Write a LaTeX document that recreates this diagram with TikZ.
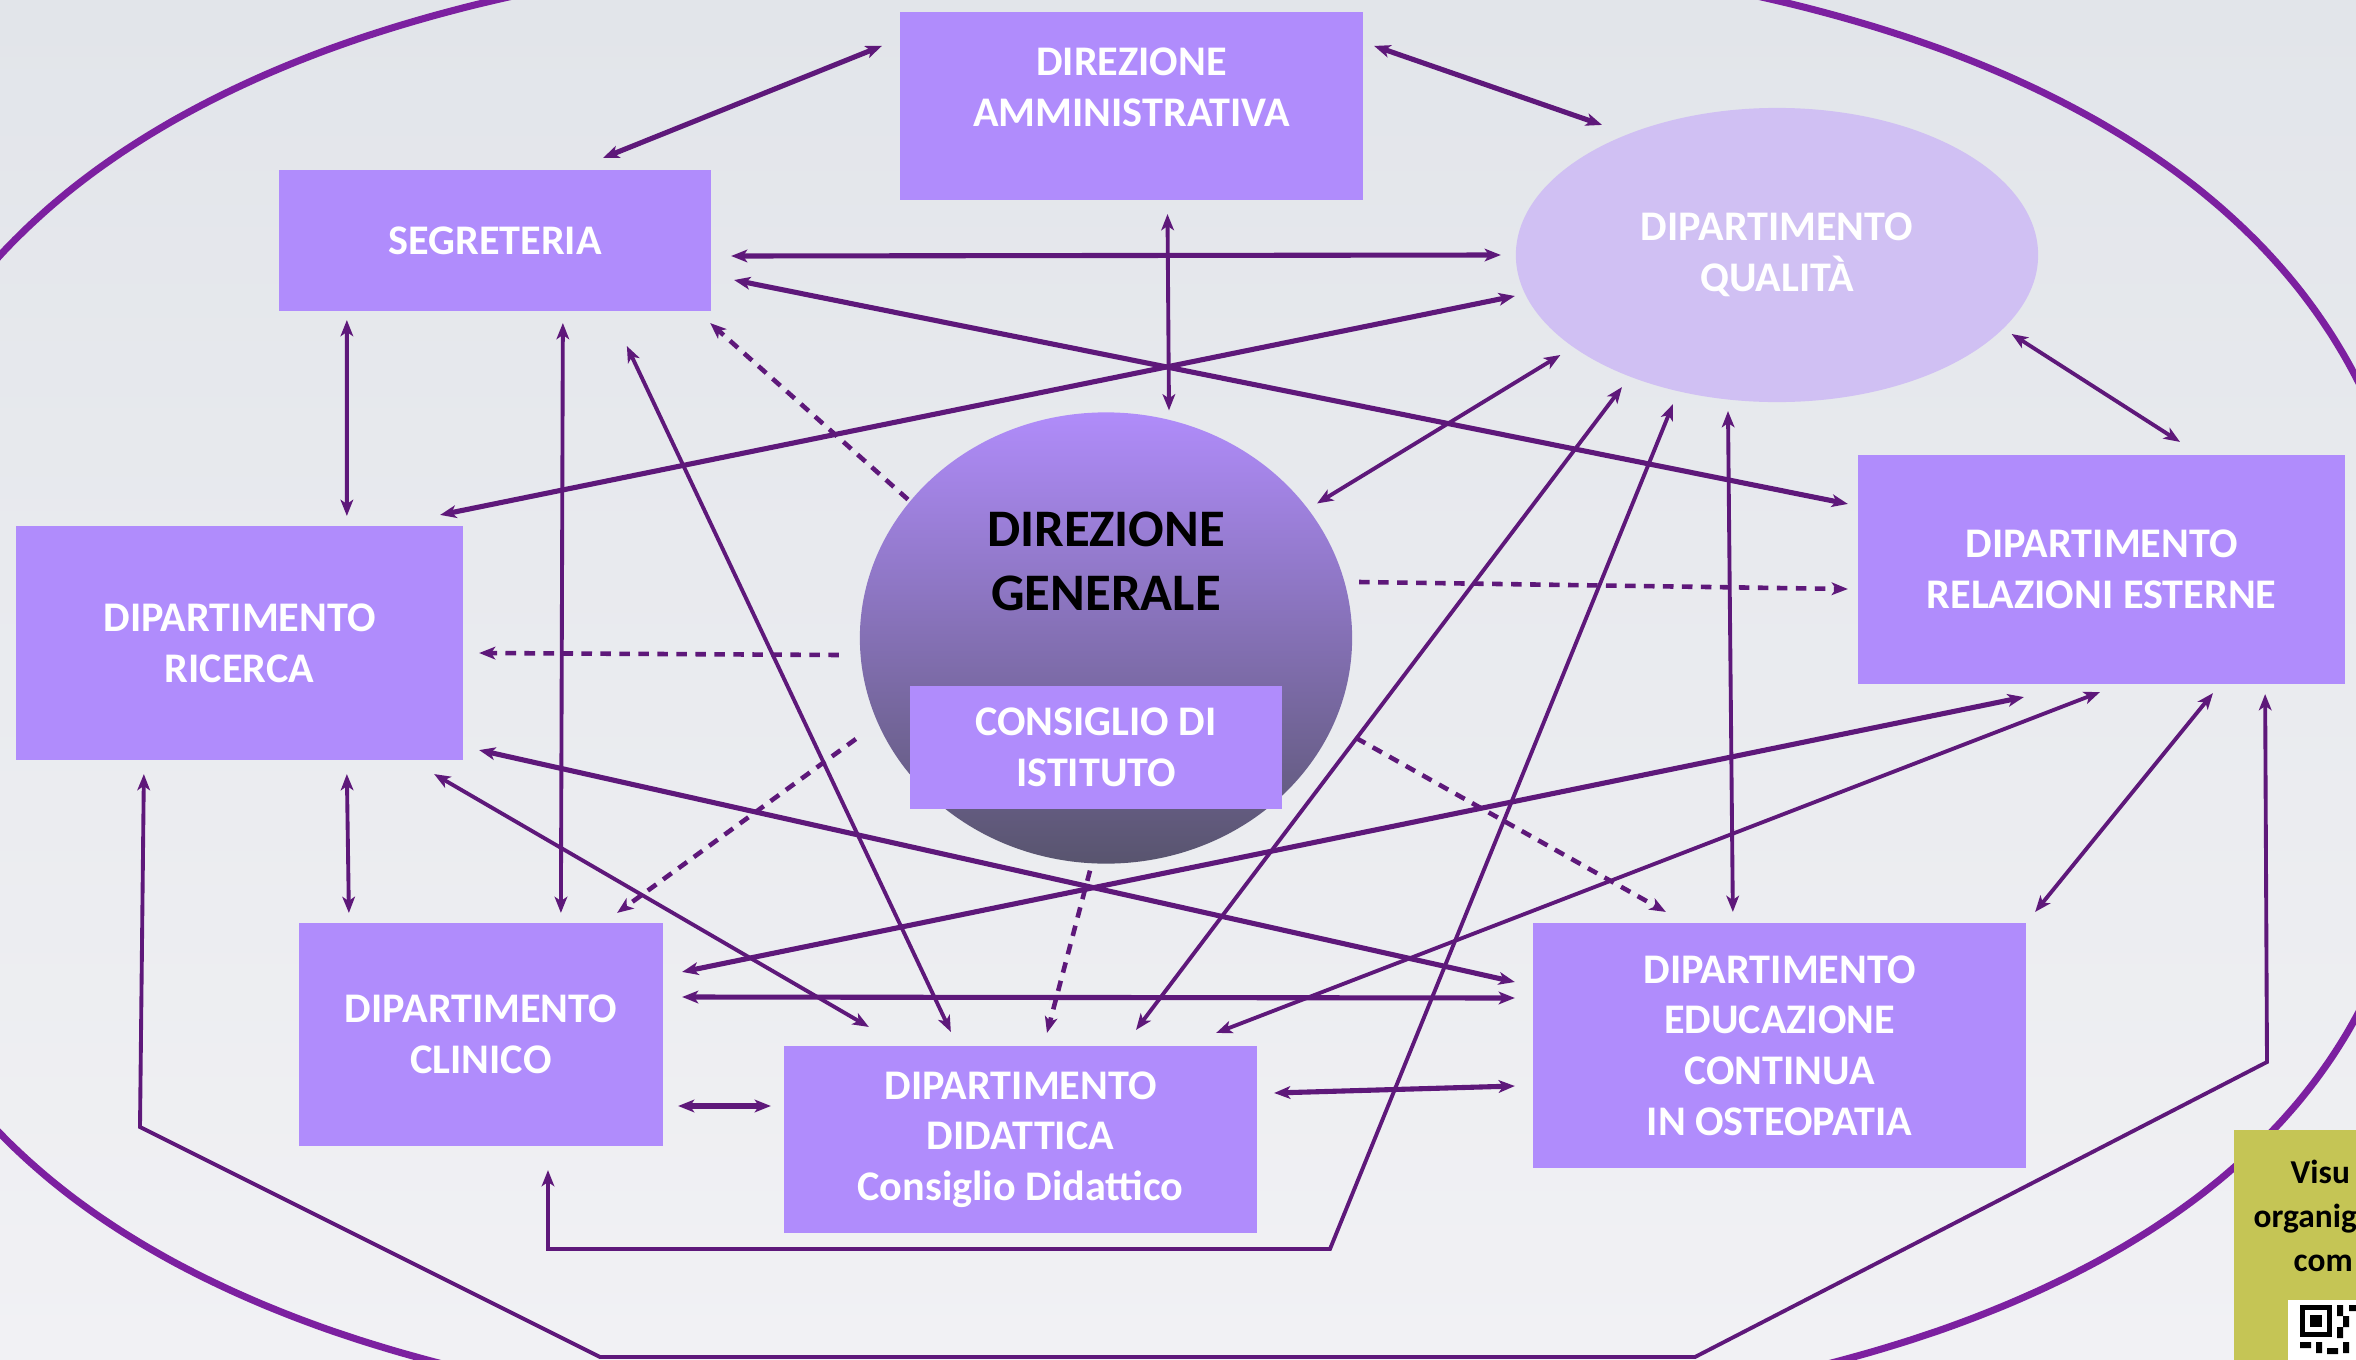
\documentclass[tikz,border=0pt]{standalone}
\usepackage{fontspec}
\setmainfont{Carlito}
\usetikzlibrary{shapes.geometric,arrows.meta,calc}

\definecolor{bgtop}{RGB}{226,229,234}
\definecolor{bgbot}{RGB}{241,241,244}
\definecolor{rimcol}{RGB}{124,32,160}
\definecolor{linkcol}{RGB}{94,24,122}
\definecolor{boxcol}{RGB}{176,140,252}
\definecolor{qualcol}{RGB}{208,192,243}
\definecolor{dgtop}{RGB}{176,140,250}
\definecolor{dgbot}{RGB}{88,84,110}
\definecolor{qrbox}{RGB}{197,197,85}

\tikzset{
  dept/.style={rectangle, fill=boxcol, text=white, align=center,
    font=\bfseries\fontsize{12}{14.4}\selectfont, inner sep=0pt, outer sep=0pt},
  depttext/.style={text=white, align=center, inner sep=0pt,
    font=\bfseries\fontsize{12}{14.4}\selectfont},
  link/.style={draw=linkcol, line width=1.1pt, <->},
  heavy/.style={link, line width=1.45pt},
  dotlink/.style={draw=linkcol, line width=1.3pt, dash pattern=on 3pt off 2.4pt, ->},
  rim/.style={draw=rimcol, line width=2pt}
}

\begin{document}
\begin{tikzpicture}[x=0.01cm, y=-0.01cm,
  >={Stealth[length=4.6pt,width=3.6pt,inset=1.2pt]}]
\path[use as bounding box, clip] (0,0) rectangle (2356,1360);
\shade[top color=bgtop, bottom color=bgbot] (0,0) rectangle (2356,1360);

% outer ring
\draw[rim] plot[domain=0:180, samples=91, smooth]
    ({1135+1286*cos(\x)*pow(abs(cos(\x))+0.0001,-0.2)}, {705-761*pow(abs(sin(\x))+0.0001,0.8)})
  -- plot[domain=180:360, samples=91, smooth]
    ({1135+1286*cos(\x)*pow(abs(cos(\x))+0.0001,-0.2)}, {705+725*pow(abs(sin(\x))+0.0001,0.8)})
  -- cycle;

% Direzione amministrativa
\node [dept,
    minimum width=4.63cm,
    minimum height=1.88cm,
    label={[depttext, yshift=0.19cm]center:DIREZIONE\\AMMINISTRATIVA}] (amm) at (1131.5,106) {};

% Segreteria
\node [dept,
    minimum width=4.32cm,
    minimum height=1.41cm] (seg) at (495,240.5) {SEGRETERIA};

% Qualita
\node [ellipse,
    fill=qualcol,
    text=white,
    align=center,
    font=\bfseries\fontsize{12}{14.4}\selectfont,
    inner sep=0pt, outer sep=0pt,
    minimum width=5.22cm,
    minimum height=2.94cm] (qual) at (1777,255) {DIPARTIMENTO\\QUALITÀ};

% Relazioni esterne
\node [dept,
    minimum width=4.87cm,
    minimum height=2.29cm] (rel) at (2101.5,569.5) {DIPARTIMENTO\\RELAZIONI ESTERNE};

% Ricerca
\node [dept,
    minimum width=4.47cm,
    minimum height=2.34cm] (ric) at (239.5,643) {DIPARTIMENTO\\RICERCA};

% Direzione generale
\node [ellipse,
    top color=dgtop,
    bottom color=dgbot,
    inner sep=0pt, outer sep=0pt,
    minimum width=4.92cm,
    minimum height=4.51cm,
    label={[align=center, inner sep=0pt, yshift=0.765cm,
      font=\bfseries\fontsize{15}{18}\selectfont]center:DIREZIONE\\GENERALE}] (dg) at (1106,638) {};

% Consiglio di istituto
\node [dept,
    minimum width=3.72cm,
    minimum height=1.23cm] (cons) at (1096,747.5) {CONSIGLIO DI\\ISTITUTO};

% Clinico
\node [dept,
    minimum width=3.64cm,
    minimum height=2.23cm] (clin) at (481,1034.5) {DIPARTIMENTO\\CLINICO};

% Didattica
\node [dept,
    minimum width=4.73cm,
    minimum height=1.87cm] (did) at (1020.5,1139.5) {DIPARTIMENTO\\DIDATTICA\\Consiglio Didattico};

% Educazione continua
\node [dept,
    minimum width=4.93cm,
    minimum height=2.45cm] (edu) at (1779.5,1045.5) {DIPARTIMENTO\\EDUCAZIONE\\CONTINUA\\IN OSTEOPATIA};

% QR corner
\node [fill=qrbox,
    anchor=north west,
    inner sep=0pt,
    minimum width=1.9cm,
    minimum height=2.9cm] (vis) at (2233,1129) {};
\node [anchor=north west, align=left, inner sep=0pt,
    font=\bfseries\fontsize{9.5}{12.5}\selectfont] (vistext) at ($(vis.north west)+(20,30)$)
    {\hspace{0.37cm}Visu\\organig\\\hspace{0.40cm}com};
\fill[white] (2288,1300) rectangle (2400,1400);
\fill[black] (2300,1305) rectangle (2332,1337);
\fill[white] (2305,1310) rectangle (2327,1332);
\fill[black] (2310,1315) rectangle (2322,1327);
\fill[black] (2337,1305) rectangle (2343,1316) (2343,1316) rectangle (2349,1327)
  (2337,1327) rectangle (2343,1338) (2349,1305) rectangle (2356,1311)
  (2300,1342) rectangle (2311,1348) (2316,1342) rectangle (2322,1353)
  (2327,1348) rectangle (2338,1354) (2343,1342) rectangle (2349,1353);

% bends
\coordinate (qualA) at (548,1249);
\coordinate (qualB) at (1330,1249);
\coordinate (ricA) at (140,1127);
\coordinate (ricB) at (600,1357);
\coordinate (ricC) at (1695,1357);
\coordinate (ricD) at (2267,1062);

% Direzione amministrativa links
\draw[heavy] ($(seg.north)+(108,-12)$) -- ($(amm.north west)+(-18,34)$);
\draw[heavy] ($(amm.north east)+(11,34)$) -- ($(qual.north)+(-175,17)$);
\draw[link] ($(amm.south)+(36,14)$) -- ($(dg.north)+(63,-2)$);

% Segreteria links
\draw[heavy] ($(seg.east)+(20,15.5)$) -- ($(qual.west)+(-15,0)$);
\draw[heavy] ($(seg.east)+(23,39.5)$) -- ($(rel.north west)+(-10,49)$);
\draw[link] ($(seg.south west)+(68,9)$) -- ($(ric.north west)+(331,-10)$);
\draw[link] ($(seg.south west)+(284,12)$) -- ($(clin.north west)+(262,-10)$);
\draw[link] ($(seg.south west)+(348,35)$) -- ($(did.north west)+(167,-14)$);

% Ricerca links
\draw[heavy] ($(ric.north east)+(-23,-11)$) -- ($(qual.west)+(-1,41)$);
\draw[heavy] ($(ric.south east)+(16,-10)$) -- ($(edu.west)+(-18,-63.5)$);
\draw[link] ($(ric.south east)+(-29,14)$) -- ($(did.north west)+(85,-19)$);
\draw[link] ($(ric.south west)+(331,14)$) -- ($(clin.north west)+(50,-10)$);
\draw[link] ($(ric.south west)+(128,14)$) -- (ricA) -- (ricB) -- (ricC) -- (ricD)
  -- ($(rel.south east)+(-80,10)$);

% Qualita links
\draw[link] ($(qual.south west)+(-32,-4)$) -- ($(dg.north east)+(37,25)$);
\draw[link] ($(qual.south east)+(50,-25)$) -- ($(rel.north)+(78.5,-13)$);
\draw[link] ($(qual.south)+(-155,-15)$) -- ($(did.north)+(115.5,-16)$);
\draw[link] ($(qual.south)+(-104,2)$) -- (qualB) -- (qualA) -- ($(clin.south)+(67,24)$);
\draw[link] ($(qual.south)+(-49,9)$) -- ($(edu.north west)+(200,-11)$);

% Direzione generale (dashed)
\draw[dotlink] ($(dg.north west)+(-24,21)$) -- ($(seg.south east)+(-1,12)$);
\draw[dotlink] ($(dg.west)+(-21,17)$) -- ($(ric.east)+(16,10)$);
\draw[dotlink] ($(dg.east)+(7,-56)$) -- ($(rel.west)+(-10,19.5)$);
\draw[dotlink] ($(dg.west)+(-4,101)$) -- ($(clin.north east)+(-46,-10)$);
\draw[dotlink] ($(dg.south)+(-16,7)$) -- ($(did.north)+(26.5,-13)$);
\draw[dotlink] ($(dg.east)+(4,100)$) -- ($(edu.north west)+(133,-11)$);

% Clinico, didattica, educazione
\draw[heavy] ($(clin.north east)+(19,49)$) -- ($(rel.south west)+(166,13)$);
\draw[heavy] ($(clin.east)+(19,-37.5)$) -- ($(edu.west)+(-18,-47.5)$);
\draw[heavy] ($(clin.east)+(15,71.5)$) -- ($(did.west)+(-13,-33.5)$);
\draw[link] ($(did.north east)+(-41,-13)$) -- ($(rel.south)+(-1.5,8)$);
\draw[heavy] ($(did.east)+(17,-46.5)$) -- ($(edu.west)+(-18,40.5)$);
\draw[link] ($(edu.north east)+(9,-11)$) -- ($(rel.south)+(111.5,9)$);

\end{tikzpicture}
\end{document}
